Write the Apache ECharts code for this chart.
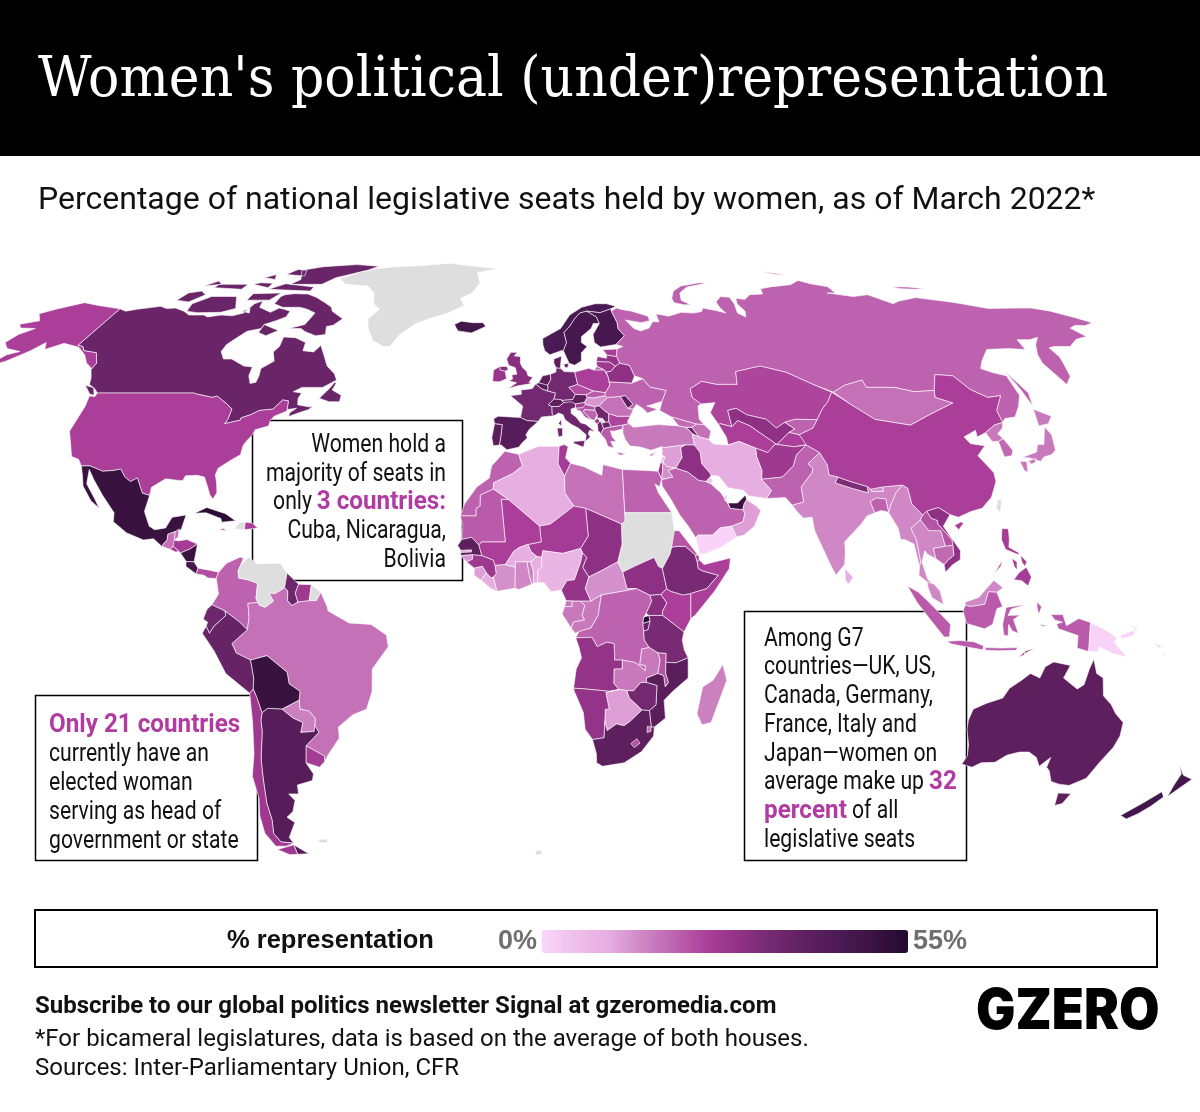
<!DOCTYPE html>
<html><head><meta charset="utf-8"><style>html,body{margin:0;padding:0;background:#fff}#c{width:1200px;height:1112px}</style>
<script src="https://cdn.jsdelivr.net/npm/echarts@6/dist/echarts.min.js"></script></head><body><div id="c"></div>
<script>
const titleText = "Women's political (under)representation";
const subtitleText = "Percentage of national legislative seats held by women, as of March 2022*";
const legendTitle = "% representation";
const rampColors = ['#FAD6FA','#EEC0EA','#E6AEE1','#CF88C5','#BD62AE','#AA3E98','#8E3184','#722970','#5E1F5E','#4A1A54','#3A1240','#220A30'];
const rangeMin = 0, rangeMax = 55;
const countryNames = ['Canada','USA','Alaska','Mexico','Guatemala','Belize','Honduras','El Salvador','Nicaragua','Costa Rica','Panama','Cuba','Haiti','Dominican Rep.','Jamaica','Greenland',
'Colombia','Venezuela','Guyana','Suriname','French Guiana','Brazil','Ecuador','Peru','Bolivia','Paraguay','Uruguay','Argentina','Chile','Falklands','Bouvet',
'Iceland','Ireland','UK','France','Spain','Portugal','Belgium','Netherlands','Germany','Denmark','Switzerland','Austria','Italy','Slovenia','Croatia','Bosnia','Serbia','Kosovo','Montenegro','Albania','N. Macedonia','Greece','Bulgaria','Romania','Hungary','Slovakia','Czechia','Poland','Ukraine','Moldova','Belarus','Lithuania','Latvia','Estonia','Norway','Sweden','Finland','Russia',
'Georgia','Armenia','Azerbaijan','Turkey','Cyprus','Kazakhstan','Uzbekistan','Turkmenistan','Kyrgyzstan','Tajikistan','Afghanistan','Iran','Iraq','Syria','Lebanon','Israel','Jordan','Saudi Arabia','Yemen','UAE','Oman','Qatar','Kuwait','Pakistan','India','Nepal','Bhutan','Bangladesh','Sri Lanka','Myanmar','Thailand','Laos','Vietnam','Cambodia','China','Taiwan','Mongolia','North Korea','South Korea','Japan','Malaysia','Indonesia','Timor-Leste','Philippines','PNG','Solomon Is.','Australia','New Zealand',
'Morocco','Algeria','Tunisia','Libya','Egypt','Sudan','South Sudan','Chad','Niger','Mali','Mauritania','Senegal','Gambia','Guinea-Bissau','Guinea','Sierra Leone','Liberia',"Cote d'Ivoire",'Burkina Faso','Ghana','Togo','Benin','Nigeria','Cameroon','CAR','Eq. Guinea','Gabon','Congo','DRC','Uganda','Kenya','Rwanda','Burundi','Tanzania','Ethiopia','Eritrea','Djibouti','Somalia','Angola','Zambia','Malawi','Mozambique','Zimbabwe','Botswana','Namibia','South Africa','Lesotho','Eswatini','Madagascar'];
const countryValues = [37,25,25,50,18,18,26,26,50,46,23,53,null,25,25,null,
20,null,36,27,null,18,36,38,50,16,26,42,27,null,null,
47,28,31,35,42,41,42,40,35,40,40,40,36,26,22,20,36,null,26,36,38,21,24,18,13,21,23,25,20,40,30,27,29,25,45,46,46,20,
19,36,18,17,14,24,30,25,20,25,27,10,30,12,8,28,14,20,1,50,12,5,4,20,15,33,14,20,10,15,15,22,30,19,25,null,18,17,19,17,15,21,38,26,1,6,40,47,
20,10,26,18,20,null,30,30,26,25,21,40,10,13,27,12,10,14,10,15,16,10,8,29,14,17,17,17,20,31,25,55,38,34,34,22,26,25,29,17,22,41,35,12,29,40,22,18,16];
/* Simplified country outlines as lon,lat rings, drawn by the map series through its projection */
const countryOutlines = {
'Canada':[[-141,69.6,-138,69,-135,69.5,-132,69.8,-128,70.3,-125,69.7,-122,69.8,-118,69,-115,68,-110,68,-108,67.5,-104,68,-100,67.8,-97,68.5,-96,71,-94,71.8,-93,70,-91,69.5,-88,68.7,-86,69.8,-84,69.5,-81.5,69,-81.5,67.5,-84,66.5,-87,65.5,-87,64.5,-91,63.8,-93,62,-94.5,60.5,-94.7,58.8,-92.5,57,-90,57,-85,55.3,-82.3,55.1,-82,53,-80.5,51.2,-79,51.5,-79,53,-79.5,54.7,-76.7,56.5,-78.5,58.7,-77.5,60,-78,62.4,-74,62.2,-70,61,-69.5,59,-66,58.7,-64.7,60.3,-62,57.5,-60,55.3,-57,53.5,-55.7,52,-59,50.3,-65,50.3,-67,49.3,-64.5,49,-65,47.8,-64.5,46.3,-61,45.8,-60,46,-61,45.2,-64,44.3,-66,43.6,-66,44.5,-64.5,45.5,-67,45.2,-67.5,47.2,-69.2,47.4,-71,45.3,-74.7,45,-76.5,44.1,-79,43.3,-79,42.8,-83,42,-82.5,43,-82.5,45.3,-84.5,46.5,-88.3,48.3,-89.5,48,-94.6,48.8,-95.2,49,-123,49,-124.5,50,-127,51,-128,52.5,-130,54.5,-130,56,-133,58.5,-137.5,59,-139,60,-141,60.3],
[-128,50.8,-125,50.2,-123.5,48.5,-125,48.8],[-59,47.8,-57,50,-56,51.5,-55.5,51.2,-56,49.7,-53,48.5,-53,47,-56,47],[-88,73.5,-85,73.8,-80,73.7,-76,72.8,-72,71.5,-68,70,-67,69,-62,67,-64,65.3,-66,65,-65,63,-68,62.7,-72,63.7,-74,64.5,-78,64.5,-73.5,65.5,-73,67,-72.5,68.5,-76,69.5,-79,70,-85,70,-89,71,-89,73],[-117,69,-113,68.6,-105,68.7,-101,69.7,-105,73,-114,73,-118,71],[-125,72,-120,71.5,-117,73.5,-120,74.5,-124,74],[-90,76.5,-78,76.5,-75,78.5,-65,81,-62,82.5,-72,83.1,-85,82.3,-92,81,-88,78],[-96,75,-80,74.5,-80,75.7,-92,76.7],[-100,72,-92,72,-90,74,-100,73.8],[-117,75.5,-106,75,-106,76.5,-117,76.5],[-87,65.5,-81,64,-84,62.7,-87,63.5],[-96,79.5,-88,79,-90,81,-94,81.3],[-122,76,-116,76.5,-119,77.5],[-104,76.5,-97,75.5,-97,76.8,-102,77],[-103,78.5,-98,78,-100,79.5],[-98,69,-95,68.5,-96,69.7]],
'USA':[[-123,49,-95.2,49,-94.6,48.8,-89.5,48,-88.3,48.3,-84.5,46.5,-82.5,45.3,-82.5,43,-83,42,-79,42.8,-79,43.3,-76.5,44.1,-74.7,45,-71,45.3,-69.2,47.4,-67.5,47.2,-67,45.2,-67,44.8,-70,43.7,-70.7,42.7,-70.7,41.5,-74,40.6,-74.3,39.5,-75.5,38,-76,37,-76,35,-78,33.9,-81,32,-81.3,30.5,-80.5,28.5,-80,26.5,-80.7,25.1,-81.7,26,-82.8,28,-84,30,-86,30.4,-89,30.3,-89.5,29.2,-91,29.3,-94,29.6,-97.2,27.7,-97.2,25.9,-99.2,26.4,-101.4,29.8,-103,29,-104.7,30,-106.5,31.8,-108.2,31.5,-111,31.3,-114.8,32.5,-117.1,32.5,-118.5,34,-120.6,34.6,-122.4,37.5,-124.3,40.3,-124,46,-124.7,48.3,-123,48.2]],
'Alaska':[[-141,69.6,-141,60.3,-139,60,-137.5,59,-133,58.5,-130,56,-130,54.7,-133,56,-136,58,-140,59.8,-146,60.8,-150,59.3,-152,61,-154,59,-158,56.5,-163,54.8,-160,58,-157,58.8,-162,59.5,-165,61,-164,63,-161,64.5,-166,64.6,-168,65.6,-163,66.5,-166.5,68.3,-163,69.5,-156.5,71.3,-150,70.5]],
'Mexico':[[-117.1,32.5,-114.8,32.5,-111,31.3,-108.2,31.5,-106.5,31.8,-104.7,30,-103,29,-101.4,29.8,-99.2,26.4,-97.2,25.9,-97.8,22.3,-96,19,-94.5,18.2,-91.8,18.6,-90.5,21,-87,21.5,-87.8,18.2,-89.2,17.8,-91,17.2,-91,16,-92.2,14.5,-94.5,16.2,-97,15.9,-101.5,17.5,-105.3,20,-105.5,22,-109.4,26,-112.7,29.5,-114.7,31.7,-114.2,28.5,-111,25,-109.5,23,-112,24.7,-115,28,-116,30.5]],
'Guatemala':[[-92.2,14.5,-91,16,-91,17.2,-89.2,17.8,-89.2,15.9,-88.2,15.7,-89.3,14.5,-90,13.8]],
'Belize':[[-89.2,17.8,-88.3,18.4,-88.3,16.5,-89.2,15.9]],
'Honduras':[[-89.2,15.9,-88.2,15.7,-86,16,-83.2,15,-85,13.9,-87.3,13,-87.8,13.4,-89.3,14.5]],
'El Salvador':[[-90,13.8,-89.3,14.5,-87.8,13.4,-88.5,13.2]],
'Nicaragua':[[-87.3,13,-85,13.9,-83.2,15,-83.7,11,-85.7,11.1]],
'Costa Rica':[[-85.7,11.1,-83.7,11,-82.6,9.6,-83,8.3,-85.7,10]],
'Panama':[[-83,8.3,-82.6,9.6,-80,9.2,-77.4,8.7,-77.9,7.3,-80,7.4,-81,8]],
'Cuba':[[-84.9,21.9,-82,23.2,-77,21.8,-74.2,20.2,-77.7,19.9,-78,20.7,-82,22]],
'Haiti':[[-74.4,18.4,-71.7,18.2,-71.7,19.9,-73,19.9]],
'Dominican Rep.':[[-71.7,18.2,-68.4,18.6,-69.9,19.7,-71.7,19.9]],
'Jamaica':[[-78.3,18.3,-76.3,18,-77,18.5]],
'Greenland':[[-73,78.2,-69,76.5,-60,76,-56,74,-54,71,-51,69.5,-53.5,67,-52,64.5,-49,61.5,-45,60,-43,60,-41,63,-37,65.7,-33,67,-27,68.5,-22,70.5,-24,72.5,-20,74,-18,77,-20,80,-12,81.5,-22,82.5,-33,83.6,-45,82.7,-55,82.3,-62,81.6,-68,80]],
'Colombia':[[-77.4,8.7,-75.5,10.7,-72.2,12.1,-71.3,11.8,-72.5,9,-72.3,7.4,-70,7,-67.5,6.2,-67.8,2.8,-67.3,1.9,-69.8,1.7,-69.5,-1.5,-70,-4.2,-72,-2.4,-75.5,0,-78.8,1.4,-77.2,3.8,-77.9,7.3]],
'Venezuela':[[-71.3,11.8,-71.5,10.7,-70,12.1,-68,10.6,-62,10.7,-60.2,8.5,-60.7,5.2,-63,3.9,-64.5,4,-63.4,2.2,-65.5,.8,-67,1.3,-67.3,1.9,-67.8,2.8,-67.5,6.2,-70,7,-72.3,7.4,-72.5,9]],
'Guyana':[[-60.2,8.5,-57.2,6,-58,4,-57.3,2,-58.8,1.2,-59.9,2.3,-59.9,4.5,-60.7,5.2]],
'Suriname':[[-57.2,6,-54,5.9,-54.5,2.3,-57.3,2,-58,4]],
'French Guiana':[[-54,5.9,-51.6,4.2,-52.7,2.3,-54.5,2.3]],
'Brazil':[[-51.6,4.2,-50,1,-49.7,0,-44.5,-2.7,-39,-3,-35.2,-5.4,-34.8,-8,-39,-13,-39.3,-18,-41,-22,-44.5,-23.2,-48.6,-26,-48.7,-28.5,-52.2,-32.2,-53.4,-33.7,-53.2,-32.5,-57.6,-30.2,-53.8,-27.2,-54.6,-25.6,-54.3,-24,-55.8,-22.4,-58,-22,-58,-20,-57.6,-18,-60.2,-16.3,-60.5,-13.7,-65.3,-10,-69.5,-11,-73,-9.4,-74,-7.3,-70,-4.2,-69.5,-1.5,-69.8,1.7,-67.3,1.9,-67,1.3,-65.5,.8,-63.4,2.2,-64.5,4,-63,3.9,-60.7,5.2,-59.9,4.5,-59.9,2.3,-58.8,1.2,-57.3,2,-54.5,2.3,-52.7,2.3]],
'Ecuador':[[-78.8,1.4,-75.5,0,-75.3,-1,-78.3,-3.4,-79.5,-5,-80.3,-3.4,-79.9,-2.5,-81,-1.8,-80,.4]],
'Peru':[[-75.5,0,-72,-2.4,-70,-4.2,-74,-7.3,-73,-9.4,-69.5,-11,-69,-15,-69.4,-17.5,-70.4,-18.4,-76,-14,-78.5,-9,-81.3,-5,-80.3,-3.4,-79.5,-5,-78.3,-3.4,-75.3,-1]],
'Bolivia':[[-69.5,-11,-65.3,-10,-60.5,-13.7,-60.2,-16.3,-57.6,-18,-58,-20,-62.6,-22,-66.2,-21.8,-67.8,-22.8,-68.7,-19.4,-69.4,-17.5,-69,-15]],
'Paraguay':[[-58,-20,-58,-22,-55.8,-22.4,-54.3,-24,-54.6,-25.6,-55,-27,-58.5,-27.2,-57.6,-25,-60,-24,-62.6,-22]],
'Uruguay':[[-57.6,-30.2,-53.2,-32.5,-53.4,-33.7,-55,-35,-58.4,-34]],
'Argentina':[[-66.2,-21.8,-62.6,-22,-60,-24,-57.6,-25,-58.5,-27.2,-55,-27,-54.6,-25.6,-53.8,-27.2,-57.6,-30.2,-58.4,-34,-57,-36.5,-57.7,-38,-62,-39,-62.3,-41,-65,-41,-63.8,-42.5,-65.3,-45,-67.5,-46.3,-65.8,-47.5,-69,-51,-68.4,-52.3,-72,-52,-73,-50,-72,-47,-71.8,-43,-71,-39,-70.5,-36,-70,-33,-68.4,-27,-68.3,-24.5,-67.8,-22.8],[-68.6,-52.7,-65.2,-54.8,-68.6,-54.9]],
'Chile':[[-67.8,-22.8,-68.3,-24.5,-68.4,-27,-70,-33,-70.5,-36,-71,-39,-71.8,-43,-72,-47,-73,-50,-72,-52,-68.4,-52.3,-71,-53,-74,-53,-75.5,-50,-75,-46,-73.5,-42,-73.5,-37,-71.6,-32,-70.5,-25,-70.4,-18.4,-69.4,-17.5,-68.7,-19.4],[-68.6,-52.7,-68.6,-54.9,-71,-55,-74,-53.8]],
'Falklands':[[-61,-51.5,-58,-51.3,-58.5,-52.2,-60.5,-52.2]],
'Bouvet':[[2.6,-54,4.4,-54,4.4,-55,2.6,-55]],
'Iceland':[[-24,65.5,-22,66.4,-18,66,-14.6,66,-13.6,65,-18,63.4,-22.5,63.9]],
'Ireland':[[-10,51.7,-10,54.3,-8.2,55.2,-8,54.4,-6.5,54.1,-6,52.3,-8,51.6]],
'UK':[[-5.5,50,-3,50.6,1.3,51.2,.6,51.5,1.7,52.7,.3,53,-.1,54,-1.4,55,-2,56,-2,57.6,-3.9,57.7,-3,58.6,-5,58.6,-6.2,57,-5.5,55.5,-3.5,54.9,-3,53.4,-4.5,53.2,-4.2,52.3,-5.2,51.8,-3,51.4],[-8.2,55.2,-6,55.2,-5.6,54.5,-6.5,54.1,-8,54.4]],
'France':[[-1.8,43.4,-1.2,46,-4.7,48.4,-1.6,48.7,-1.7,49.7,1.5,50,2.5,51.1,4.2,50,5.8,49.5,8.2,49,7.6,47.6,6,46.3,7,45.9,7,44.2,7.5,43.8,4,43.5,3.1,42.5,0,42.7],[8.6,42,9.4,43,9.5,41.5]],
'Spain':[[-9.2,43.1,-8,43.7,-1.8,43.4,0,42.7,3.1,42.5,.7,40.8,-.3,39.5,.1,38.8,-1.5,37.5,-2.2,36.7,-5.4,36.1,-6.9,37.2,-7.4,37.2,-7,39.6,-6.8,41.8,-8.2,41.9,-8.9,42]],
'Portugal':[[-8.9,42,-8.2,41.9,-6.8,41.8,-7,39.6,-7.4,37.2,-9,37,-9.5,38.8]],
'Belgium':[[2.5,51.1,3.4,51.4,5.9,51,6.1,50.2,5.8,49.5,4.2,50]],
'Netherlands':[[3.4,51.4,4.6,53,6.9,53.4,7,52.2,6,50.8,5.9,51]],
'Germany':[[7,52.2,6.9,53.4,8.6,53.9,8.7,54.9,10,54.8,11,54,14.2,53.9,14.7,51,12.1,50.3,13.8,48.7,13,47.5,10,47.3,7.6,47.6,8.2,49,5.8,49.5,6.1,50.2,6,50.8]],
'Denmark':[[8.7,54.9,8.1,56,8.2,57,10.6,57.7,10.2,56,10,54.8],[11,55.7,12.5,56,12.3,55,11.5,54.9]],
'Switzerland':[[6,46.3,7.6,47.6,9.6,47.5,10.4,46.8,9,45.9,7,45.9]],
'Austria':[[9.6,47.5,10,47.3,13,47.5,13.8,48.7,16.9,48.6,17.1,48,16.2,46.8,13.7,46.5,10.4,46.8]],
'Italy':[[7,45.9,9,45.9,10.4,46.8,12.4,47,13.7,46.5,13.6,45.7,12.3,45.3,12.3,44.3,13.6,43.5,14.7,42.2,16.1,41.9,18.5,40.1,17,40.5,16.6,39.7,17.1,39,15.7,38,16,39.5,14,41,12.2,41.8,10.5,42.9,10,44,8.8,44.4,7.5,43.8,7,44.2],[12.5,38,15.6,38.2,15.1,36.7,12.5,37.6],[8.2,41,9.7,41,9.6,39.2,8.5,39]],
'Slovenia':[[13.7,46.5,16.2,46.8,16.5,46.4,15.5,45.6,13.6,45.5]],
'Croatia':[[13.6,45.5,15.5,45.6,16.5,46.4,19,45.9,19,45,16,45.2,15.8,44.7,17.5,43.1,18.5,42.5,16,43.5,14.9,44.9,14.2,45]],
'Bosnia':[[15.8,44.7,16,45.2,19,45,19.5,44,18.5,42.7,18.5,42.5,17.5,43.1]],
'Serbia':[[19,45.9,20.3,46.1,21.5,45,22.7,44.3,22.5,42.4,21.5,42.3,20.8,43.2,19.4,43.3,19.5,44,19,45]],
'Kosovo':[[20.8,43.2,21.5,42.3,20.5,42.1,20.1,42.6]],
'Montenegro':[[18.5,42.5,18.5,42.7,19.4,43.3,20.1,42.6,19.3,41.9]],
'Albania':[[19.3,41.9,20.1,42.6,20.5,42.1,20.9,40.9,20,39.7,19.3,40.5]],
'N. Macedonia':[[20.5,42.1,21.5,42.3,22.5,42.4,23,41.3,20.9,40.9]],
'Greece':[[20,39.7,20.9,40.9,23,41.3,26.3,41.7,26,40.8,23.5,40.3,22.7,40.4,23,39,24,38,22.5,38,23.2,36.5,21.6,36.9,21.2,38.3],[23.6,35.6,26.3,35.2,24.7,34.9]],
'Bulgaria':[[22.5,42.4,22.7,44.3,25,43.7,28.6,43.7,27.6,42.5,28,42,26.3,41.7,23,41.3]],
'Romania':[[20.3,46.1,22.9,48,26.6,48.2,28.2,45.5,29.7,45.2,28.6,43.7,25,43.7,22.7,44.3,21.5,45]],
'Hungary':[[16.2,46.8,17.1,48,18.8,47.9,22.2,48.4,22.9,48,20.3,46.1,19,45.9,16.5,46.4]],
'Slovakia':[[16.9,48.6,19,49.5,22.5,49.1,22.2,48.4,18.8,47.9,17.1,48]],
'Czechia':[[12.1,50.3,14.7,51,19,49.5,16.9,48.6,13.8,48.7]],
'Poland':[[14.2,53.9,18.5,54.8,19.8,54.4,23,54.4,23.9,52.7,24,50.8,22.5,49.1,19,49.5,14.7,51]],
'Ukraine':[[22.2,48.4,22.5,49.1,24,50.8,24,51.6,30.5,51.3,34,52.3,35.5,50.4,40,49.6,38.2,47.1,35,46.3,33.6,46,36.5,45.3,33.5,44.4,32.5,45.4,30.8,46.4,29.7,45.3,28.2,45.5,29.8,46.4,28,48.4,26.6,48.2,22.9,48]],
'Moldova':[[26.6,48.2,28,48.4,29.8,46.4,28.2,45.5]],
'Belarus':[[23.9,52.7,24,51.6,30.5,51.3,31.7,53,30.8,55.5,28,56,26.5,55.3,25,54.1,23.5,53.9]],
'Lithuania':[[21,55.8,21,56.4,25,56.3,26.5,55.3,25,54.1,23.5,53.9,23,54.4,21,55.2]],
'Latvia':[[21,56.4,21.6,57.6,24.3,57.2,24.4,58,27.5,57.6,28,56,26.5,55.3,25,56.3]],
'Estonia':[[23.5,59.2,28,59.4,27.5,57.6,24.4,58,24.3,58.3]],
'Norway':[[5.5,59,7,58,10.6,59,11.3,59,12.5,61,12,63.5,14,65,16,67,18,68.5,20.5,69,25,68.6,29,69.6,31,70.3,28,71,24,71,19,70,14.5,68,11,64.5,5,62,5,60.5]],
'Sweden':[[11.3,59,12.7,56,14.3,55.5,16.5,56.5,16.8,58.5,18.8,60,17.2,61,17.5,62.5,21,64.5,22,65.8,24,65.8,23.5,67.5,20.5,69,18,68.5,16,67,14,65,12,63.5,12.5,61]],
'Finland':[[24,65.8,21.3,63,21.3,61,23,59.9,28,60.5,31.3,62.7,29.8,64.5,30,66,29,69,29,69.6,25,68.6,20.5,69,23.5,67.5]],
'Russia':[[31,69.8,33,69.4,36,69,41,67.7,41,66.5,38,66,33,66.7,35,64.5,37,63.9,40,64.6,42,66.3,44,66.2,44,68.3,46,68,48,67.7,53,68.7,57,68.5,60,68.9,61,69.8,65,69.2,68,68.5,67,70,67,71.5,70,73,73,72.8,73,71,72,68.5,74,67.5,75,69,74,71,75,72.5,78,72.2,81,73.5,86,73.7,87,75.2,92,75.8,100,76.4,105,77.7,108,76.7,113,75.8,113,74,110,74,118,73,124,73.5,129,71,132,71.7,140,72.7,150,71.5,153,71,160,69.7,170,69.8,175,69.8,180,69,185,67.3,188,66,184,65.2,181,65.3,178,64.6,179.5,62.5,175,61.8,170,60,165,60,163,59.7,163,57.5,162,56,160,52.9,156.7,51,155.7,56,157,58,160,60.5,163.5,62.3,160,61.7,156,61.7,155,59.3,150,59.5,143,59.3,138,56.5,135.5,54.7,138,53.8,141.3,53,140.5,48.5,138,46,135,43.5,132,43.2,130.7,42.3,131,45,135,48.4,131,48,127.5,49.8,125.5,53,120.5,53.3,117,49.6,111,49.3,106,50.3,98,50.3,98,52,92,50.8,87.8,49.2,83,51,77,53.8,70,55.3,62,54,61,51,55,51,51,51.7,47,50,47,48,49,46.5,48,46,47.5,43,48.5,41.8,46.5,41.9,40,43.5,37,45,38.2,47.1,40,49.6,35.5,50.4,34,52.3,31.7,53,30.8,55.5,28,56,27.5,57.6,28,59.4,30,60,28,60.5,31.3,62.7,29.8,64.5,30,66,29,69],[52,71.3,55,70.7,57.5,70.7,55,72,56,74,60,75.7,68.5,76.8,66,77,58,76,54,74.5,52,72.5],[142,54.3,143.5,49,142,46,142,50],[20,54.4,23,54.4,21,55.2],[95,80.6,100,79.8,103,79.3,99,79.5],[137,75.8,143,75.7,148,75.2,145,75,139,75.2]],
'Georgia':[[40,43.5,46.5,41.9,45,41.2,43,41.2,41.5,41.5]],
'Armenia':[[43.5,41.1,45,41.2,46.5,39,44.8,39.7]],
'Azerbaijan':[[45,41.2,46.5,41.9,48.5,41.8,50,40.3,49,38.4,46.5,39]],
'Turkey':[[26,40,26.3,41.7,28,42,29,41.2,36,41.8,41.5,41.5,43,41.2,43.5,41.1,44.8,39.7,44.8,37.2,42.3,37.2,36.5,36.6,36,36.8,33,36,30.5,36.7,27.5,37,26.4,38.5]],
'Cyprus':[[32.3,35,34.5,35.6,33,34.6]],
'Kazakhstan':[[47,50,51,51.7,55,51,61,51,62,54,70,55.3,77,53.8,83,51,87.3,49.2,85,47,82.5,45.3,80,42.9,74,43,70.8,42.3,68,41,66,43,61,44,58.5,45.5,56,45,56,41.3,53,42,52.5,41.8,51,44.5,53,46.8,49,46.5,47,48]],
'Uzbekistan':[[56,45,58.5,45.5,61,44,66,43,68,41,70.8,42.3,73,40.8,71,40,68,38,67,37.3,64.5,39,61,41.5,58,42.7,56,41.3]],
'Turkmenistan':[[53,42,52.5,41.8,53.8,39,53.9,37.2,57,38,61,36.5,64,35.5,66.5,37.4,67,37.3,64.5,39,61,41.5,58,42.7,56,41.3]],
'Kyrgyzstan':[[70.8,42.3,74,43,80,42.9,78,41,73.7,39.5,71,40,73,40.8]],
'Tajikistan':[[68,38,71,40,73.7,39.5,75,37.3,71.5,36.8,67,37.3]],
'Afghanistan':[[61,36.5,64,35.5,66.5,37.4,67,37.3,71.5,36.8,74.8,37.2,71.5,35,70,32.5,66.5,30,61,29.5,61.5,31.5,60.8,34.5]],
'Iran':[[44.8,39.7,46.5,39,49,38.4,50,37.4,53.9,37.2,57,38,61,36.5,60.8,34.5,61.5,31.5,61,29.5,63.2,27,61.6,25.2,57,25.8,56,27,52,27.6,50,30.2,48,30.4,47.7,31,46,33,46,35.5,44.8,37.2]],
'Iraq':[[42.3,37.2,44.8,37.2,46,35.5,46,33,47.7,31,48,30.4,47.7,30,46.5,29,44.7,29.2,42,31.1,39,32,41,34.4,41,36.6]],
'Syria':[[36,36.8,36.5,36.6,42.3,37.2,41,36.6,41,34.4,39,32,36.8,32.3,35.8,33.3,36.5,34.5,35.8,35,36,36]],
'Lebanon':[[35.1,33.1,35.8,33.3,36.5,34.5,35.9,34.6]],
'Israel':[[34.3,31.3,35,29.5,35.5,31.5,35.8,33.3,35.1,33.1]],
'Jordan':[[35,29.5,38,30,37,31.5,39,32,36.8,32.3,35.8,33.3,35.5,31.5]],
'Saudi Arabia':[[35,29.4,38,30,37,31.5,39,32,42,31.1,44.7,29.2,46.5,29,47.7,28.5,48.8,27.5,50,26.5,51.2,24.6,52,23,55.2,22.7,55.7,22,55,20,52,19,49,18.6,47,17,43.3,17,42.7,16.4,41,19,39,21.5,37,25,35,28]],
'Yemen':[[42.7,16.4,43.3,17,47,17,49,18.6,52,19,53.1,16.6,49,14.3,45,12.8,43.5,12.7]],
'UAE':[[51.6,24.2,54,24.2,56.3,26,56.4,24.9,55.7,24,55.2,22.7,52,23]],
'Oman':[[53.1,16.6,52,19,55,20,55.7,22,55.2,22.7,55.7,24,56.4,24.9,58.7,23.6,59.8,22.5,57.8,19,55,17]],
'Qatar':[[50.8,24.7,51.2,24.6,51.6,25.9,51,26]],
'Kuwait':[[46.5,29,47.7,30,48.3,29.3,47.7,28.5]],
'Pakistan':[[61,29.5,66.5,30,70,32.5,71.5,35,74.8,37.2,77.8,35.5,74,33,75,32,74.5,31,71,27.8,71,24.4,68,23.7,66.5,25.4,61.6,25.2,63.2,27]],
'India':[[74,33,77.8,35.5,79,32.7,78.8,30.5,81,30,80,28.7,84,27.5,88,26.5,88.1,27.9,88.9,27.3,89,26.8,92,26.8,92,27.8,97.3,28.2,95.2,26.5,93.4,24,92.4,22,92.2,24.8,92.2,25.1,89.8,25.3,88.1,24.5,88.9,22,86.8,21.3,85,19.5,80.3,15.5,80.2,13,79.8,10.4,77.5,8,76.2,10.5,73,18,72.7,21,70.5,20.8,69,22.3,68,23.7,71,24.4,71,27.8,74.5,31,75,32]],
'Nepal':[[80,28.7,81,30,84,29,88.1,27.9,88,26.5,84,27.5]],
'Bhutan':[[88.9,27.3,92,27.8,92,26.8,89,26.8]],
'Bangladesh':[[88.1,24.5,89.8,25.3,92.2,25.1,92.2,24.8,92.4,22,91.8,22.3,90.5,22.5,88.9,22]],
'Sri Lanka':[[79.8,9.6,81.8,7.5,80.5,6,79.8,7]],
'Myanmar':[[92.4,22,93.4,24,95.2,26.5,97.3,28.2,98.5,27.5,98.7,24,101,21.5,100.2,20.4,97.5,18.5,98.5,16,99,11,98.6,10,97.7,15,95.5,16,94.5,16,94.3,18.5]],
'Thailand':[[100.2,20.4,102,18,105,18,105.6,14.5,102.5,14,102.9,11.7,100.9,12.7,100.3,13.5,99.3,11,100.5,7,102,6,100.3,6.5,98.3,8,98.6,10,99,11,98.5,16,97.5,18.5]],
'Laos':[[101,21.5,102.2,22.4,103,20.8,104.5,20.3,104.5,19.5,107.5,16,107.5,14.7,105.6,14.5,105,18,102,18,100.2,20.4]],
'Vietnam':[[102.2,22.4,105.3,23.2,108,21.6,105.8,19,107,17,109.3,13.5,109,11.5,107,10.4,105,8.7,104.8,10.4,106,11.5,107.5,12.5,107.5,14.7,107.5,16,104.5,19.5,104.5,20.3,103,20.8]],
'Cambodia':[[102.9,11.7,102.5,14,105.6,14.5,107.5,14.7,107.5,12.5,106,11.5,104.8,10.4]],
'China':[[74.8,37.2,73.7,39.5,78,41,80,42.9,82.5,45.3,85,47,87.3,49.2,91,46.5,96,43,105,41.7,111.5,44,120,46.7,116,48,117,49.6,120.5,53.3,125.5,53,127.5,49.8,131,48,135,48.4,131,45,130.7,42.3,128,41.7,124.4,40,121.6,39,122,40.5,118,39,119,37.5,122.5,37,119.5,34.8,122,31,121.8,29,119.5,25.5,116.5,23,113.5,22.3,110,21,108,21.6,105.3,23.2,102.2,22.4,101,21.5,98.7,24,98.5,27.5,97.3,28.2,92,27.8,88.9,27.3,88.1,27.9,84,29,81,30,78.8,30.5,79,32.7,77.8,35.5],[108.7,19.2,110.5,20,111,19.6,109.6,18.2]],
'Taiwan':[[121,25,122,25,120.9,22,120.1,23]],
'Mongolia':[[87.8,49.2,92,50.8,98,52,98,50.3,106,50.3,111,49.3,117,49.6,116,48,120,46.7,111.5,44,105,41.7,96,43,91,46.5]],
'North Korea':[[124.4,40,128,41.7,130.7,42.3,129.7,41,127.5,39.7,128.4,38.6,126.7,38,125,38]],
'South Korea':[[126.7,38,128.4,38.6,129.4,36,128.5,34.8,126.4,34.5,126.6,37]],
'Japan':[[131,34.4,135.5,35.6,136.8,37.3,138.5,37.3,140,39.5,141.4,41.3,142,39.5,140.8,36,139,35,136.8,34.5,135.5,33.5,133,34.3],[140,41.5,141.5,45.3,145.2,43.7,143,42],[130,33.5,131.8,33.5,131,31.1,130.2,31.5],[132.3,33.6,134.5,34.2,134,33.3,132.8,32.9]],
'Malaysia':[[100.3,6.5,102,6,103.4,4.5,104.2,1.4,101.3,3,100.4,5.4],[109.6,2,111.3,2.5,113,3,115,5,117,6.9,119.2,5.2,117.6,4.2,115.5,4.3,114.5,1.5,111,1,109.6,1.3]],
'Indonesia':[[95.3,5.6,98,4.2,100.5,2,103.8,-1,106,-3,105.8,-5.8,104.5,-5.8,100.5,-1.5,97.5,2],[105.2,-6.8,108.5,-6.6,112,-6.9,114.5,-7.8,114.4,-8.7,110,-8,106.5,-7.4],[109.6,1.3,111,1,114.5,1.5,115.5,4.3,117.6,4.2,118.9,1,117.5,.5,116.5,-3,114.5,-4,110,-2.8,109,0],[119.8,.8,125,1.5,121,.4,120.3,-1,123.3,-.9,121.7,-1.9,123,-5,121.5,-4.5,120.5,-3,120.5,-5.6,119.4,-5.4,119,-3],[131,-.8,134,-.8,135,-3.3,138,-1.7,141,-2.6,141,-9.1,138,-8.3,138,-5.5,133,-4,132.5,-2.9,134,-2.5,132,-2],[127.5,2,128.7,1,128,-.8,127.6,.5],[128,-3,130.8,-3.3,129,-3.4],[123.5,-10.3,125,-9,124.9,-9.9],[115,-8.2,119,-8.3,123,-8.2,122.8,-8.8,118.5,-8.9,115,-8.8]],
'Timor-Leste':[[125,-9,127.2,-8.4,125,-9.5]],
'Philippines':[[120.6,18.5,122.2,18.4,122,16,121.6,14.3,124,13,123.8,12.6,120.7,13.8,120,16],[122,7,123.5,8.6,125.4,9.8,126.5,7.6,125.5,5.6,124,6.8],[122,11.8,123.2,11,123,9.2,122.4,9.9],[124.3,12.5,125.7,11,125,10,124.4,11],[117.3,8.4,119.5,11.3,119,10]],
'PNG':[[141,-2.6,145,-4.3,147.8,-6,147.2,-7,150.8,-10.3,147,-9.5,143.5,-8,143.2,-9.2,141,-9.1],[148.5,-5.5,152.2,-4.2,152,-5.5,149,-6.2],[150.8,-2.6,152.8,-4.2,152.5,-4.5]],
'Solomon Is.':[[157,-7,159.5,-8.3,158.5,-8.2],[159.6,-9.3,160.8,-9.8,160,-9.8]],
'Australia':[[114,-22,113.3,-24.5,113.5,-26.5,115,-30,115.7,-32.5,115,-34.3,118,-35,120,-34,123.6,-33.9,126,-32.3,129,-31.6,131.5,-31.6,134,-32.8,135.7,-34.8,137.8,-32.8,137.8,-35,139,-35.8,141,-38.2,143.5,-38.8,146.4,-39.1,150,-37.5,151.2,-34,153,-30.5,153.6,-28,153.2,-25,150.7,-23,149,-21,146.5,-19,145.5,-15,143.7,-14,142.5,-10.8,141.7,-13,141,-16.5,139.5,-17.5,135.5,-15,136.8,-12.2,132.5,-11.4,130.5,-12.5,129.5,-15,127,-14,125,-15.5,122.3,-17.3,121,-19.5,117,-20.7],[144.7,-40.8,148.3,-40.9,147.8,-43.2,146,-43.6]],
'New Zealand':[[172.7,-34.5,175.5,-36.8,178.5,-37.7,176.9,-39.5,175.3,-41.6,174.7,-39,174.7,-36.5],[172.7,-40.5,174.3,-41.7,172.8,-43.8,171,-45.5,169,-46.7,166.5,-45.9,170,-43]],
'Morocco':[[-5.9,35.8,-9.3,32.5,-9.8,29.8,-13,27.8,-16,24,-17,21.3,-13,21.3,-13,23,-12,23.5,-12,26,-8.7,27.3,-8.7,28.7,-3.7,30.8,-1.2,32.5,-2.2,35.1]],
'Algeria':[[-2.2,35.1,3,36.9,8.6,36.9,8.2,33,9.8,30.2,9.8,26.5,12,23.5,6,19.5,3.2,19,-4.8,25,-8.7,27.3,-8.7,28.7,-3.7,30.8,-1.2,32.5]],
'Tunisia':[[8.6,36.9,10,37.3,11,36.8,10.2,34.3,11.5,33.1,9.8,30.2,8.2,33]],
'Libya':[[11.5,33.1,15,32.3,19.5,30.4,20,32.8,25,31.7,25,20,24,19.5,15,23,12,23.5,9.8,26.5,9.8,30.2]],
'Egypt':[[25,31.7,31,31.5,34.3,31.3,35,29.5,34.3,27.8,33.2,28.5,33.9,26.5,37,22,25,22]],
'Sudan':[[25,22,37,22,37.4,18,38.6,18,36.5,14.3,36,12.7,34,9.5,33,10,32,12,27,10,24,8.7,22.8,11,24,15,24,19.5,25,20]],
'South Sudan':[[24,8.7,27,10,32,12,33,10,34,9.5,35,5,33.5,3.7,30.8,3.5,27.4,5,25,5]],
'Chad':[[15,23,24,19.5,24,15,22.8,11,18.6,9,15.5,7.6,14,9.8,15,12,14,13,13.5,14,15.5,16.8]],
'Niger':[[12,23.5,15,23,15.5,16.8,13.5,14,9,12.9,4,13.5,3.7,12,2.5,12.2,1,13.3,.2,14.9,3.6,15.5,3.2,19,6,19.5]],
'Mali':[[-4.8,25,3.2,19,3.6,15.5,.2,14.9,-2,14.2,-3.4,13.3,-4.3,12,-5.5,10.4,-8,10.2,-8.5,11.4,-11.4,12.4,-12.2,14.8,-11.5,15.5,-5.5,15.5,-6.6,25]],
'Mauritania':[[-17,21.3,-16.3,19,-16.5,16,-14,16.5,-12.2,14.8,-11.5,15.5,-5.5,15.5,-6.6,25,-4.8,25,-8.7,27.3,-12,26,-12,23.5,-13,23,-13,21.3]],
'Senegal':[[-16.5,16,-17.5,14.7,-16.7,13.6,-16.7,12.4,-13.7,12.6,-11.4,12.4,-12.2,14.8,-14,16.5]],
'Gambia':[[-16.8,13.6,-14,13.7,-14,13.2,-16.7,13.1]],
'Guinea-Bissau':[[-16.7,12.4,-13.7,12.6,-13.7,11.6,-15.2,11]],
'Guinea':[[-13.7,12.6,-11.4,12.4,-8.5,11.4,-8,10.2,-7.7,8.4,-8.4,7.6,-9,7.4,-10.2,8.5,-11.2,10,-13.2,9.6,-15.2,11,-13.7,11.6]],
'Sierra Leone':[[-13.2,9.6,-11.2,10,-10.2,8.5,-11.5,6.9,-13.3,8]],
'Liberia':[[-11.5,6.9,-10.2,8.5,-9,7.4,-8.4,7.6,-7.5,4.4,-9,5]],
"Cote d'Ivoire":[[-8.4,7.6,-7.7,8.4,-8,10.2,-5.5,10.4,-2.9,9.8,-3,5.1,-7.5,4.4]],
'Burkina Faso':[[-5.5,10.4,-4.3,12,-3.4,13.3,-2,14.2,.2,14.9,1,13.3,2.5,12.2,.9,11,-2.9,11,-2.9,9.8]],
'Ghana':[[-2.9,11,0,11,.6,8,1.2,6,-2,4.8,-3,5.1,-2.9,9.8]],
'Togo':[[0,11,.9,11,1.6,9,1.6,6.2,1.2,6,.6,8]],
'Benin':[[.9,11,2.5,12.2,3.7,12,3.7,10,2.7,9,2.7,6.4,1.6,6.2,1.6,9]],
'Nigeria':[[2.7,6.4,2.7,9,3.7,10,3.7,12,4,13.5,9,12.9,13.5,14,14,13,13.5,11,11.9,7,10,6.8,8.6,4.7,6,4.3,4.3,6.3]],
'Cameroon':[[8.6,4.7,10,6.8,11.9,7,13.5,11,14,13,15,12,14,9.8,15.5,7.6,14.6,5,16,2.2,13.3,2.2,9.8,2.3]],
'CAR':[[14.6,5,15.5,7.6,18.6,9,22.8,11,24,8.7,25,5,27.4,5,22.5,4.2,18.6,3.6,16,2.2]],
'Eq. Guinea':[[9.8,2.3,11.3,2.2,11.3,1,9.4,1]],
'Gabon':[[9.4,1,11.3,1,11.3,2.2,13.3,2.2,14.5,1.3,13.8,-.9,14.4,-2,11.6,-2.5,11.1,-3.9,8.8,-.7]],
'Congo':[[13.3,2.2,16,2.2,18.6,3.6,17.8,-1,16,-3.8,13,-4.6,12.1,-5,11.1,-3.9,11.6,-2.5,14.4,-2,13.8,-.9,14.5,1.3]],
'DRC':[[18.6,3.6,22.5,4.2,27.4,5,30.8,3.5,31.2,2.2,29.8,-.5,29.2,-1.4,29,-2.8,29.2,-4.5,29.4,-6.5,30.7,-8.2,28.8,-8.5,28.4,-12,29.8,-12.2,29.8,-13.4,28,-12,27,-11.5,24,-11,22,-11,22,-9.5,21.8,-7.3,20,-7,17.6,-8,16.3,-5.9,12.2,-6,13,-4.6,16,-3.8,17.8,-1]],
'Uganda':[[30.8,3.5,33.5,3.7,35,1.8,33.9,0,33.9,-1,30.5,-1,29.8,-.5,31.2,2.2]],
'Kenya':[[35,5,36,4.4,39,3.6,41,3.9,41,-1.7,39.3,-4.7,33.9,-1,33.9,0,35,1.8,33.5,3.7]],
'Rwanda':[[29.2,-1.4,30.5,-1,30.8,-2.3,29,-2.8]],
'Burundi':[[29,-2.8,30.8,-2.3,30.3,-4.2,29.2,-4.5]],
'Tanzania':[[30.5,-1,33.9,-1,39.3,-4.7,38.9,-6.5,39.5,-8.8,40.5,-10.5,37.5,-11.6,34.9,-11.5,34.9,-9.5,32.9,-9.4,30.7,-8.2,29.4,-6.5,29.2,-4.5,30.3,-4.2,30.8,-2.3]],
'Ethiopia':[[36.5,14.3,38,14.5,40,14.5,42.4,12.5,42.8,11,43,9.5,44,9,48,8,45,5,42,4.2,41,3.9,39,3.6,36,4.4,35,5,34,9.5,36,12.7]],
'Eritrea':[[37.4,18,38.6,18,43,12.6,42.4,12.5,40,14.5,38,14.5,36.5,14.3]],
'Djibouti':[[42.4,12.5,43.3,12.5,43.3,11.5,42.8,11]],
'Somalia':[[43.3,11.5,44.5,10.4,51.2,11.9,50.8,9.5,47,4.5,42,-1,41,-1.7,41,3.9,42,4.2,45,5,48,8,44,9,43,9.5,42.8,11]],
'Angola':[[12.2,-6,16.3,-5.9,17.6,-8,20,-7,21.8,-7.3,22,-9.5,22,-11,24,-11,24,-13,22,-13,22,-16.2,23.4,-17.6,21,-18,14,-17.4,11.8,-17.3,12.4,-13,13.7,-10.5,13,-8]],
'Zambia':[[22,-13,24,-13,24,-11,27,-11.5,28,-12,29.8,-13.4,29.8,-12.2,28.4,-12,28.8,-8.5,30.7,-8.2,32.9,-9.4,33.5,-11,33,-14,30.2,-15,30.2,-16,28.8,-16,27,-17.9,25.3,-17.8,23.4,-17.6,22,-16.2]],
'Malawi':[[32.9,-9.4,34.9,-9.5,34.9,-11.5,35,-14,35.8,-16,35,-17,34.5,-14.5,33,-14,33.5,-11]],
'Mozambique':[[34.9,-11.5,37.5,-11.6,40.5,-10.5,40.7,-15,37,-18,34.9,-20,35.5,-24,32.8,-26,32,-26,31.3,-22.3,32.9,-21,32.9,-16.7,30.2,-16,30.2,-15,33,-14,34.5,-14.5,35,-17,35.8,-16,35,-14]],
'Zimbabwe':[[25.3,-17.8,27,-17.9,28.8,-16,30.2,-16,32.9,-16.7,32.9,-21,31.3,-22.3,29.4,-22.2,26,-19.5]],
'Botswana':[[20,-18.2,23.4,-17.6,25.3,-17.8,26,-19.5,29.4,-22.2,26.5,-24.7,25,-25.7,23,-25.3,20.7,-26.8,20,-24.8,20,-22,21,-22]],
'Namibia':[[11.8,-17.3,14,-17.4,21,-18,23.4,-17.6,20,-18.2,21,-22,20,-22,20,-28.4,17,-28.8,15,-26.5,14.4,-22.7,12,-18]],
'South Africa':[[17,-28.8,20,-28.4,20,-24.8,20.7,-26.8,23,-25.3,25,-25.7,26.5,-24.7,29.4,-22.2,31.3,-22.3,32,-26,32.8,-26,32.8,-28,30,-31.5,25.7,-34,20,-34.8,18.4,-34,18.2,-32]],
'Lesotho':[[27,-29.7,28.5,-28.6,29.4,-29.6,28,-30.6]],
'Eswatini':[[31,-25.8,32,-26,32,-27,31,-27.2]],
'Madagascar':[[49.3,-12,50.5,-15.5,47.3,-25,45,-25.5,43.5,-23,44.5,-17,47,-15.5]]
};
/* Robinson projection tables */
const robinsonX=[1,.9986,.9954,.99,.9822,.973,.96,.9427,.9216,.8962,.8679,.835,.7986,.7597,.7186,.6732,.6213,.5722,.5322];
const robinsonY=[0,.062,.124,.186,.248,.31,.372,.434,.4958,.5571,.6176,.6769,.7346,.7903,.8435,.8936,.9394,.9761,1];
const scaleX=4, scaleY=360, originX=527, originY=611;
function tbl(t,lat){const a=Math.min(89.99,Math.abs(lat))/5,i=Math.floor(a);return t[i]+(t[i+1]-t[i])*(a-i);}
const projection={
 project(p){return [originX+p[0]*scaleX*tbl(robinsonX,p[1]),originY-Math.sign(p[1])*scaleY*tbl(robinsonY,p[1])];},
 unproject(q){const Y=(originY-q[1])/scaleY;let lat=Math.abs(Y)/0.0124;for(let k=0;k<20;k++){lat+= (Math.abs(Y)-tbl(robinsonY,lat))/0.0124;}lat*=Math.sign(Y);return [(q[0]-originX)/(scaleX*tbl(robinsonX,lat)),lat];}
};
const features=[];let x0=1e9,x1=-1e9,y0=1e9,y1=-1e9;
countryNames.forEach(name=>{
 const rings=(countryOutlines[name]||[]).map(f=>{const r=[];for(let i=0;i<f.length;i+=2){r.push([f[i],f[i+1]]);const q=projection.project([f[i],f[i+1]]);x0=Math.min(x0,q[0]);x1=Math.max(x1,q[0]);y0=Math.min(y0,q[1]);y1=Math.max(y1,q[1]);}r.push(r[0].slice());return [r];});
 features.push({type:'Feature',properties:{name},geometry:{type:'MultiPolygon',coordinates:rings}});
});
echarts.registerMap('world',{type:'FeatureCollection',features});
const seriesData=countryNames.map((n,i)=>countryValues[i]==null?null:{name:n,value:countryValues[i]}).filter(Boolean);

const sans='Roboto, sans-serif';
const accent='#B23BA2';
function line(x,y,text,o){o=o||{};
 return {type:'text',z:20,x,y:y+3,scaleX:o.bold?.95:.83,style:{text,fontFamily:sans,fontSize:25.5,fontWeight:o.bold?700:400,fill:o.bold?accent:'#111',align:o.align||'left',verticalAlign:'middle'}};
}
function plain(x,y,text,size,o){o=o||{};
 return {type:'text',z:20,x,y,scaleX:o.sx||1,style:{text,fontFamily:o.family||sans,fontSize:size,fontWeight:o.weight||400,fill:o.fill||'#111',align:'left',verticalAlign:'middle'}};
}
function box(x,y,w,h,lw){return {type:'rect',z:1,shape:{x,y,width:w,height:h},style:{fill:'#fff',stroke:'#000',lineWidth:lw}};}
const chart=echarts.init(document.getElementById('c'),null,{renderer:'canvas',width:1200,height:1112});
chart.setOption({animation:false,backgroundColor:'#fff',
 visualMap:{type:'continuous',min:rangeMin,max:rangeMax,orient:'horizontal',left:483,top:913,itemHeight:366,itemWidth:23,text:['55%','0%'],textGap:5,calculable:false,hoverLink:false,inRange:{color:rampColors},textStyle:{fontFamily:'"Liberation Sans", Arial, sans-serif',fontWeight:700,fontSize:27,color:'#6F6F6F'},z:30},
 series:[{type:'map',map:'world',projection,roam:false,left:x0,top:y0,width:x1-x0,height:y1-y0,silent:true,selectedMode:false,label:{show:false},emphasis:{disabled:true},
  itemStyle:{areaColor:'#DEDEDE',borderColor:'#fff',borderWidth:.6},data:seriesData}],
 graphic:{elements:[
  {type:'rect',z:5,shape:{x:0,y:0,width:1200,height:156},style:{fill:'#000'}},
  plain(38,81,titleText,56,{family:'"DejaVu Serif", serif',fill:'#fff',sx:.931}),
  plain(38,201,subtitleText,32,{}),
  box(252.5,420.5,210,160,1.5),
  line(446,443,'Women hold a',{align:'right'}),
  line(446,472,'majority of seats in',{align:'right'}),
  line(312,500,'only',{align:'right'}),
  line(446,500,'3 countries:',{align:'right',bold:1}),
  line(446,529,'Cuba, Nicaragua,',{align:'right'}),
  line(446,558,'Bolivia',{align:'right'}),
  box(35.5,695.5,222,165,1.5),
  line(49,723,'Only 21 countries',{bold:1}),
  line(49,752,'currently have an'),
  line(49,781,'elected woman'),
  line(49,810,'serving as head of'),
  line(49,839,'government or state'),
  box(744.5,611.5,222,249,1.5),
  line(764,637,'Among G7'),
  line(764,665,'countries\u2014UK, US,'),
  line(764,694,'Canada, Germany,'),
  line(764,723,'France, Italy and'),
  line(764,752,'Japan\u2014women on'),
  line(764,780,'average make up'),
  line(929,780,'32',{bold:1}),
  line(764,809,'percent',{bold:1}),
  line(852,809,'of all'),
  line(764,838,'legislative seats'),
  box(35,910,1122,57,2),
  plain(227,941,legendTitle,25.5,{weight:700,family:'"Liberation Sans", Arial, sans-serif'}),
  plain(35,1007,'Subscribe to our global politics newsletter Signal at gzeromedia.com',24,{weight:700,sx:1}),
  plain(35,1040,'*For bicameral legislatures, data is based on the average of both houses.',24,{}),
  plain(35,1069,'Sources: Inter-Parliamentary Union, CFR',24,{}),
  plain(976,1012,'GZERO',56,{family:'Inter, sans-serif',weight:900,fill:'#000',sx:.935})
 ]}
});
</script></body></html>
